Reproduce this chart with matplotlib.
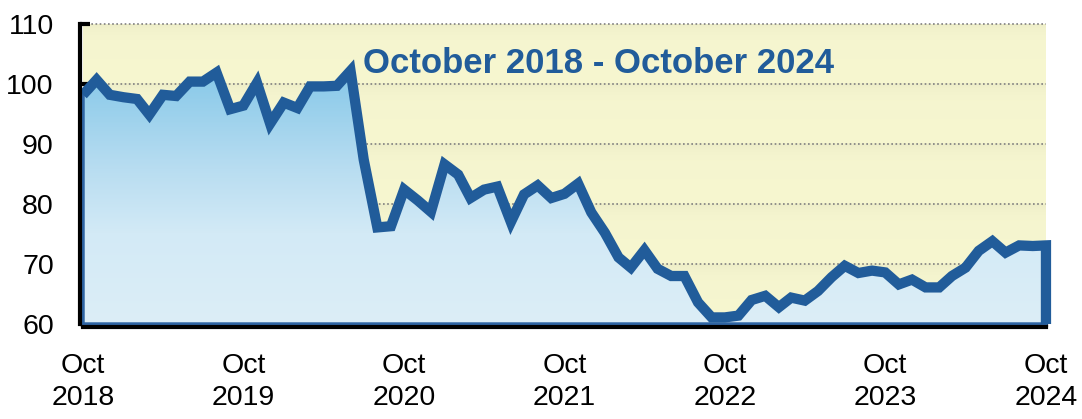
import numpy as np
import pandas as pd
import matplotlib
matplotlib.use('Agg')
import matplotlib.pyplot as plt
import matplotlib.dates as mdates
from matplotlib.patches import Polygon
from matplotlib.colors import LinearSegmentedColormap
from matplotlib import font_manager

# === Data (monthly index, Oct 2018 - Oct 2024) ===
start_month = '2018-10-01'
end_month = '2024-10-01'
values = [98.2, 100.7, 98.2, 97.8, 97.5, 94.9, 98.2, 98.0, 100.4, 100.4,
          101.9, 95.8, 96.4, 100.2, 93.4, 96.9, 96.0, 99.6, 99.6, 99.7,
          102.2, 87.4, 76.1, 76.3, 82.4, 80.6, 78.7, 86.6, 84.9, 81.0,
          82.4, 82.9, 77.0, 81.6, 83.1, 81.0, 81.7, 83.4, 78.6, 75.2,
          71.1, 69.4, 72.3, 69.2, 68.0, 68.0, 63.6, 61.1, 61.1, 61.4,
          64.0, 64.7, 62.8, 64.4, 63.9, 65.5, 67.8, 69.7, 68.5, 68.9,
          68.6, 66.6, 67.4, 66.1, 66.1, 68.0, 69.4, 72.2, 73.8, 71.9,
          73.1, 73.0, 73.1]
tick_years = [2018, 2019, 2020, 2021, 2022, 2023, 2024]
y_ticks = [60, 70, 80, 90, 100, 110]
title_text = 'October 2018 - October 2024'

dates = pd.date_range(start_month, end_month, freq='MS')
x = mdates.date2num(dates)
y = np.array(values)

# === Fonts ===
installed = {f.name for f in font_manager.fontManager.ttflist}
narrow = 'Liberation Sans Narrow' in installed
tick_font = 'Liberation Sans Narrow' if narrow else 'Liberation Sans'
tick_size = 22 if narrow else 20.5

line_color = '#215C9A'
ymin, ymax = 60, 110

fig = plt.figure(figsize=(10.82, 4.19), dpi=100)
ax = fig.add_axes([0.0767, 0.2267, 0.89, 0.716])
ax.set_xlim(x[0], x[-1])
ax.set_ylim(ymin, ymax)

# === Background: pale yellow with soft bands under each gridline ===
yy = np.linspace(ymin, ymax, 500)
band = (ymax - yy) % 10 / 10.0
shade = np.exp(-band / 0.12)
bg_light = np.array([0.965, 0.965, 0.815])
bg_dark = np.array([0.925, 0.925, 0.78])
bg = bg_light[None, :] + (bg_dark - bg_light)[None, :] * shade[:, None]
bg_img = np.repeat(bg[:, None, :], 2, axis=1)
ax.imshow(bg_img, extent=[x[0], x[-1], ymin, ymax], aspect='auto',
          origin='lower', zorder=0, interpolation='bilinear')

# === Gridlines ===
for t in y_ticks[1:]:
    ax.axhline(t, color='#7f7f7f', linestyle=(0, (1, 1.5)), linewidth=1.2, zorder=1, clip_on=False)

# === Gradient area under the line ===
fill_cmap = LinearSegmentedColormap.from_list(
    'fill', [(0.0, '#DCEEF7'), (0.35, '#D3EAF6'), (0.6, '#B8DDF1'), (1.0, '#84C7E8')])
grad = np.linspace(0, 1, 300)[:, None]
grad = np.repeat(grad, 2, axis=1)
im = ax.imshow(grad, extent=[x[0], x[-1], ymin, 103], aspect='auto',
               origin='lower', cmap=fill_cmap, zorder=2, interpolation='bilinear')
verts = np.vstack([np.column_stack([x, y]), [[x[-1], ymin], [x[0], ymin]]])
poly = Polygon(verts, closed=True, facecolor='none', edgecolor='#2E64A3',
               linewidth=2.5, zorder=3, clip_on=False)
ax.add_patch(poly)
im.set_clip_path(poly)

# === Main line (with drop at the right edge) ===
ax.plot(np.append(x, x[-1]), np.append(y, ymin), color=line_color, linewidth=7.4,
        solid_joinstyle='miter', solid_capstyle='butt', zorder=4, clip_on=False)

# === Title inside the plot ===
ax.text(0.291, 0.868, title_text, transform=ax.transAxes, ha='left', va='center',
        fontsize=25, fontweight='bold', color=line_color,
        family='Liberation Sans', zorder=5)

# === Axes styling ===
for side in ['top', 'right']:
    ax.spines[side].set_visible(False)
for side in ['left', 'bottom']:
    ax.spines[side].set_linewidth(3)
    ax.spines[side].set_color('black')
    ax.spines[side].set_position(('outward', 2))
    ax.spines[side].set_zorder(6)

tick_pos = mdates.date2num([pd.Timestamp(f'{yr}-10-01') for yr in tick_years])
ax.set_xticks(tick_pos)
ax.set_xticklabels([f'Oct\n{yr}' for yr in tick_years])
ax.set_yticks(y_ticks)
ax.set_yticklabels([str(t) for t in y_ticks])
ax.tick_params(axis='both', direction='in', length=7, width=3, color='black')
ax.tick_params(axis='x', pad=19)
ax.tick_params(axis='y', pad=19)
for lab in ax.get_xticklabels() + ax.get_yticklabels():
    lab.set_family(tick_font)
    lab.set_fontsize(tick_size)
for lab in ax.get_xticklabels():
    lab.set_linespacing(1.3)

fig.savefig('out.png', dpi=100)
